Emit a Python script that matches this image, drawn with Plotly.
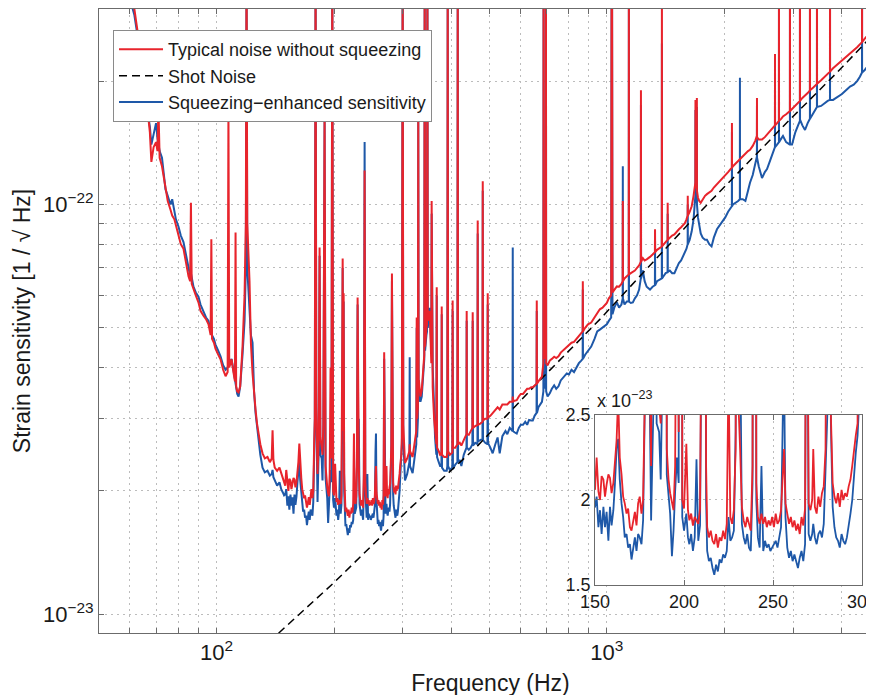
import math
import plotly.graph_objects as go

# Strain sensitivity spectra.
# Values are in units of 1e-23 / sqrt(Hz); 40 marks a line that runs off the top.
SCALE = 1e-23

freq_hz = [
    55, 58, 60, 61.6, 63.5, 64.6, 65.5, 66.5, 67.5, 68.1,
    69.0, 70.0, 70.6, 71.0, 71.5, 72.5, 74.0, 75.0, 76.2, 77.0,
    78.0, 78.7, 79.9, 81.0, 82.3, 83.5, 84.8, 85.6, 86.0, 86.4,
    87.3, 88.5, 89.9, 91.0, 92.6, 94.0, 95.4, 96.6, 97.0, 97.4,
    98.5, 99.4, 101.0, 102.4, 104.0, 105.5, 106.8, 107.3, 107.8, 109.3,
    110.5, 111.5, 111.9, 112.3, 113.0, 113.9, 115.0, 116.6, 118.0, 118.9,
    119.4, 119.9, 121.5, 122.5, 123.7, 124.8, 125.9, 127.0, 128.1, 129.5,
    131.2, 133.0, 135.1, 137.0, 138.5, 139.2, 139.9, 141.0, 143.0, 145.0,
    146.5, 148.0, 149.0,
    150.0, 150.9, 151.9, 152.8, 153.7, 154.7, 155.6, 156.5, 157.5, 158.4,
    159.3, 160.3, 161.2, 162.1, 163.0, 163.9, 164.9, 165.8, 166.7, 167.7,
    168.6, 169.6, 170.5, 171.4, 172.4, 173.3, 174.2, 175.1, 176.1, 177.0,
    177.9, 178.6, 179.4, 180.2, 181.5, 182.7, 183.7, 184.6, 186.0, 186.9,
    187.8, 189.2, 190.3, 191.3, 192.2, 193.2, 194.1, 195.0, 196.0, 197.0,
    198.0, 199.0, 200.0, 201.3, 202.2, 203.0, 204.0, 205.0, 206.0, 207.0,
    208.0, 209.0, 210.0, 210.5, 211.2, 211.7, 212.4, 213.0, 214.0, 215.0,
    216.0, 217.0, 218.0, 219.0, 220.0, 221.0, 222.0, 223.0, 224.0, 225.0,
    226.0, 227.0, 228.0, 229.0, 229.9, 230.8, 231.5, 232.5, 233.5, 234.5,
    235.5, 236.5, 237.5, 238.5, 239.6, 240.6, 241.5, 242.5, 243.5, 244.5,
    245.5, 246.5, 247.5, 248.5, 249.5, 250.5, 251.5, 252.5, 253.5, 254.5,
    255.5, 256.2, 257.0, 258.0, 259.0, 260.0, 261.0, 262.0, 263.0, 264.0,
    265.0, 266.0, 267.0, 268.0, 268.9, 270.0, 271.0, 272.0, 272.6, 273.5,
    274.5, 275.5, 276.5, 277.5, 278.5, 279.5, 280.5, 281.5, 282.5, 283.5,
    284.5, 285.5, 286.5, 287.5, 288.5, 289.5, 290.5, 291.5, 292.5, 293.5,
    294.5, 295.5, 296.5, 297.5, 298.5, 299.9, 301.0,
    304, 308, 312.0, 312.6, 313.2, 318, 322, 325.0, 325.8, 326.6,
    328.1, 328.8, 329.5, 330.0, 333, 335.6, 338, 340.7, 341.5, 342.3,
    345, 346.2, 347.0, 347.8, 351.8, 354, 355.1, 355.8, 356.5, 358.0,
    361, 363, 365.8, 366.6, 367.4, 371, 374, 377.0, 377.6, 378.2,
    383, 388.9, 390.3, 391.2, 392.1, 396, 401.9, 402.7, 403.5, 409,
    414.2, 415.0, 415.8, 420, 424, 430, 434, 437.0, 437.5, 438.0,
    443, 448, 452.5, 453.3, 454.1, 460, 466.2, 466.9, 467.6, 474,
    480.2, 481.0, 481.8, 488, 494.5, 495.3, 496.1, 503, 510, 518,
    525, 531.6, 540, 550, 556, 564, 573.3, 574.1, 574.9, 580,
    587.7, 595, 602, 610, 618, 625, 632, 640, 646.1, 653,
    660.7, 661.5, 662.3, 668, 675, 682, 687.8, 688.6, 689.4, 693.5,
    697.6, 698.4, 699.2, 705, 714.3, 723, 733, 742, 752, 762,
    775, 789.6, 800, 812, 824, 836, 848, 860, 867.2, 868.0,
    868.8, 880, 895, 912, 930, 945, 959.6, 975, 990, 1000,
    1012, 1026, 1028.8, 1031.2, 1034, 1045, 1061, 1075, 1090, 1098.2,
    1099.0, 1099.8, 1110, 1125, 1138.2, 1139.0, 1139.8, 1152, 1166, 1180,
    1195, 1210, 1222, 1223, 1224, 1237, 1250, 1265, 1280, 1290,
    1310, 1328, 1329, 1330, 1345, 1360, 1383, 1384, 1385, 1400,
    1415, 1431, 1432, 1433, 1450, 1470, 1490, 1510, 1530, 1550,
    1566, 1585, 1600, 1611, 1612, 1613, 1630, 1650, 1668, 1680,
    1686, 1687, 1688, 1695, 1700, 1701, 1702, 1712, 1725, 1740,
    1760, 1785, 1805, 1830, 1855, 1880, 1915, 1950, 1980, 2011,
    2045, 2075, 2091, 2092, 2093, 2105, 2140, 2170, 2192, 2193,
    2194, 2230, 2265, 2300, 2327, 2365, 2400, 2424, 2425, 2426,
    2450, 2498, 2540, 2573, 2620, 2660, 2696, 2697, 2698, 2730,
    2760, 2761, 2762, 2800, 2827, 2880, 2945, 2946, 2947, 2982,
    3040, 3090, 3124, 3125, 3126, 3170, 3219, 3270, 3314, 3315,
    3316, 3380, 3454, 3455, 3456, 3540, 3620, 3680, 3730, 3731,
    3732, 3798, 3900, 4003, 4100, 4199, 4290, 4378, 4450, 4506,
    4507, 4508, 4580, 4642, 4740, 4837, 5000,
]

typical_noise = [
    45, 38, 33, 30.0, 24.5, 21.0, 18.5, 17.2, 15.0, 12.7,
    13.8, 14.2, 13.5, 17.3, 13.0, 12.4, 10.9, 10.2, 9.72, 9.4,
    9.2, 8.9, 8.35, 8.0, 7.8, 7.2, 6.67, 6.5, 10.1, 6.4,
    6.2, 6.0, 5.77, 5.5, 5.35, 5.25, 5.1, 4.8, 8.22, 4.7,
    4.6, 4.45, 4.3, 4.19, 3.95, 3.81, 3.9, 17.2, 4.0, 4.19,
    3.9, 3.7, 8.55, 3.6, 3.5, 3.48, 3.6, 4.5, 6.0, 9.0,
    40, 9.0, 6.5, 4.6, 3.87, 3.38, 3.16, 2.92, 2.75, 2.6,
    2.47, 2.40, 2.42, 2.35, 2.40, 2.81, 2.38, 2.28, 2.24, 2.28,
    2.21, 2.15, 2.12,
    2.06, 2.25, 2.05, 2.00, 2.14, 2.12, 2.02, 2.09, 2.15, 2.13,
    2.04, 2.10, 2.22, 2.35, 2.61, 2.25, 2.15, 2.02, 1.98, 1.92,
    1.95, 1.84, 1.82, 1.87, 1.93, 1.85, 1.98, 2.02, 1.92, 2.00,
    2.60, 3.00, 40, 3.20, 2.20, 2.60, 7.85, 2.70, 2.55, 2.45,
    2.90, 16.7, 2.30, 2.12, 2.04, 1.98, 1.94, 2.20, 4.00, 2.40,
    40, 2.00, 1.95, 2.33, 1.94, 1.88, 1.92, 1.85, 1.90, 1.88,
    1.86, 1.95, 3.50, 7.38, 2.80, 6.07, 2.20, 1.84, 1.78, 1.82,
    1.76, 1.74, 1.80, 1.72, 1.78, 1.76, 1.82, 1.77, 1.86, 2.76,
    1.90, 1.86, 1.94, 2.30, 5.93, 2.50, 2.30, 1.96, 1.88, 1.84,
    1.90, 1.86, 1.82, 2.20, 12.1, 2.10, 1.90, 1.86, 1.92, 1.86,
    1.90, 1.84, 1.88, 1.85, 1.90, 1.84, 1.92, 1.86, 1.88, 1.94,
    2.20, 2.30, 1.98, 1.92, 1.86, 1.90, 1.84, 1.88, 1.82, 1.86,
    1.80, 1.90, 1.85, 1.95, 4.36, 1.98, 1.94, 2.00, 2.30, 1.96,
    1.92, 2.02, 1.96, 2.04, 2.08, 2.30, 2.60, 6.79, 2.50, 2.10,
    2.02, 1.98, 2.04, 1.96, 2.06, 2.00, 2.04, 2.02, 2.08, 2.12,
    2.20, 2.30, 2.38, 2.45, 2.70, 40, 2.90,
    2.34, 2.40, 2.50, 2.60, 2.50, 2.42, 2.60, 2.80, 5.30, 3.00,
    3.20, 17.2, 3.50, 3.72, 3.40, 3.52, 3.90, 4.30, 40, 4.50,
    5.00, 5.10, 40, 5.20, 5.50, 4.40, 4.10, 10.2, 3.90, 3.58,
    3.00, 2.75, 2.60, 6.28, 2.55, 2.50, 2.45, 2.46, 5.64, 2.45,
    2.42, 2.42, 2.50, 40, 2.50, 2.45, 2.48, 5.83, 2.55, 2.55,
    2.60, 40, 2.60, 2.62, 2.58, 2.66, 2.72, 2.75, 5.50, 2.76,
    2.74, 2.80, 2.85, 5.46, 2.85, 2.88, 2.90, 9.14, 2.90, 2.92,
    2.95, 11.4, 2.97, 3.00, 3.00, 6.07, 3.02, 3.05, 3.10, 3.16,
    3.20, 3.16, 3.25, 3.25, 3.25, 3.30, 3.30, 3.40, 3.30, 3.32,
    3.33, 3.40, 3.45, 3.45, 3.50, 3.55, 3.55, 3.58, 3.58, 3.62,
    3.65, 5.83, 3.65, 3.70, 3.75, 3.80, 4.10, 40, 4.20, 4.30,
    4.20, 40, 4.10, 4.05, 4.16, 4.20, 4.25, 4.22, 4.26, 4.35,
    4.42, 4.48, 4.55, 4.60, 4.62, 4.70, 4.75, 4.85, 4.90, 6.50,
    4.90, 5.00, 5.10, 5.15, 5.30, 5.45, 5.55, 5.60, 5.70, 5.75,
    5.90, 6.00, 40, 40, 6.10, 6.20, 6.31, 6.30, 6.40, 6.50,
    10.2, 6.50, 6.60, 6.70, 6.75, 40, 6.75, 6.80, 6.85, 6.90,
    7.00, 7.10, 7.25, 19.0, 7.25, 7.40, 7.30, 7.35, 7.40, 7.45,
    7.55, 7.65, 8.70, 7.65, 7.75, 7.80, 7.90, 40, 7.90, 8.00,
    8.10, 8.20, 10.1, 8.20, 8.30, 8.40, 8.45, 8.60, 8.70, 8.80,
    8.90, 9.00, 9.20, 9.40, 10.5, 9.40, 9.60, 9.90, 10.5, 11.0,
    11.3, 18.0, 11.3, 11.0, 11.0, 18.2, 10.8, 10.4, 10.2, 10.1,
    10.3, 10.5, 10.6, 10.7, 10.8, 11.0, 11.2, 11.4, 11.6, 11.8,
    12.0, 12.2, 12.3, 15.8, 12.3, 12.4, 12.6, 12.8, 12.9, 12.9,
    12.9, 13.1, 13.3, 13.5, 13.6, 13.9, 14.3, 14.7, 18.2, 14.6,
    14.4, 14.4, 14.6, 14.8, 15.1, 15.4, 15.6, 23.3, 15.6, 15.8,
    16.0, 40, 16.0, 16.2, 16.4, 16.6, 16.9, 40, 16.9, 17.1,
    17.4, 17.7, 17.9, 40, 17.9, 18.2, 18.4, 18.7, 19.0, 40,
    19.0, 19.3, 19.7, 40, 19.7, 20.1, 20.5, 20.8, 21.1, 40,
    21.1, 21.5, 22.0, 22.5, 23.0, 23.4, 23.8, 24.2, 24.6, 24.9,
    40, 24.9, 25.4, 25.8, 26.3, 26.8, 27.6,
]

squeezed = [
    43, 36, 32, 29.0, 24.0, 20.5, 18.5, 17.0, 15.5, 14.0,
    15.0, 15.8, 14.5, 14.0, 13.5, 13.0, 10.9, 10.5, 10.0, 10.3,
    9.6, 9.2, 8.84, 8.4, 8.1, 7.5, 6.9, 6.7, 6.8, 6.6,
    6.3, 6.1, 5.96, 5.7, 5.5, 5.3, 5.2, 4.9, 5.0, 4.8,
    4.7, 4.55, 4.4, 4.26, 4.05, 3.95, 4.0, 4.1, 4.05, 4.2,
    3.95, 3.75, 3.7, 3.6, 3.45, 3.4, 3.6, 4.3, 5.2, 7.0,
    38, 7.0, 5.6, 4.8, 4.6, 3.5, 3.1, 2.85, 2.65, 2.45,
    2.28, 2.22, 2.24, 2.18, 2.20, 2.25, 2.16, 2.12, 2.06, 2.10,
    2.02, 1.98, 1.95,
    1.96, 2.02, 1.84, 1.94, 1.80, 1.96, 1.84, 1.93, 1.76, 1.96,
    1.85, 1.94, 2.10, 2.30, 2.36, 2.12, 1.98, 1.90, 1.78, 1.80,
    1.72, 1.74, 1.65, 1.72, 1.78, 1.70, 1.80, 1.78, 1.74, 1.88,
    2.60, 3.00, 40, 3.10, 1.88, 2.50, 7.50, 2.45, 2.40, 2.12,
    2.70, 16.0, 2.15, 2.02, 1.92, 1.67, 1.82, 2.05, 2.25, 2.10,
    40, 1.90, 1.82, 1.92, 1.78, 1.74, 1.80, 1.70, 1.78, 2.24,
    1.76, 1.85, 3.30, 7.00, 2.60, 5.80, 2.00, 1.70, 1.64, 1.66,
    1.60, 1.56, 1.62, 1.58, 1.65, 1.63, 1.68, 1.66, 1.70, 1.90,
    1.76, 1.78, 1.82, 2.40, 5.70, 2.60, 3.00, 1.86, 1.78, 1.74,
    1.80, 1.72, 1.70, 2.10, 14.2, 2.00, 1.78, 1.72, 2.20, 1.70,
    1.76, 1.72, 1.74, 1.70, 1.72, 1.74, 1.76, 1.72, 1.78, 1.84,
    2.50, 2.76, 1.90, 1.72, 1.66, 1.70, 1.64, 1.68, 1.64, 1.60,
    1.66, 1.70, 1.64, 1.74, 4.20, 1.80, 1.76, 1.80, 1.86, 1.78,
    1.74, 1.80, 1.82, 1.78, 1.86, 2.20, 2.50, 6.50, 2.45, 1.96,
    1.84, 1.78, 1.76, 1.72, 1.80, 1.76, 1.74, 1.78, 1.84, 1.92,
    2.00, 2.15, 2.28, 2.38, 2.60, 40, 2.70,
    2.12, 2.20, 2.35, 4.24, 2.30, 2.21, 2.40, 2.60, 5.00, 2.70,
    3.00, 16.0, 3.30, 3.50, 3.30, 3.40, 3.80, 4.20, 40, 4.40,
    4.80, 4.90, 40, 5.00, 5.60, 4.60, 4.40, 9.50, 4.20, 4.00,
    3.20, 2.70, 2.45, 6.00, 2.42, 2.35, 2.30, 2.30, 5.40, 2.28,
    2.24, 2.24, 2.30, 40, 2.30, 2.25, 2.28, 5.50, 2.26, 2.32,
    2.35, 40, 2.35, 2.38, 2.30, 2.45, 2.50, 2.55, 5.20, 2.55,
    2.52, 2.55, 2.60, 5.20, 2.58, 2.62, 2.60, 8.50, 2.64, 2.66,
    2.68, 10.8, 2.66, 2.62, 2.60, 5.70, 2.62, 2.55, 2.47, 2.60,
    2.70, 2.47, 2.72, 2.80, 2.75, 2.85, 2.80, 7.85, 2.80, 2.78,
    2.76, 2.85, 2.90, 2.90, 2.95, 2.90, 2.98, 2.97, 2.97, 3.05,
    3.10, 5.50, 3.10, 3.20, 3.25, 3.30, 3.50, 40, 3.60, 3.60,
    3.55, 40, 3.50, 3.40, 3.46, 3.55, 3.62, 3.55, 3.60, 3.72,
    3.80, 3.87, 3.85, 3.95, 3.90, 4.00, 4.10, 4.16, 4.20, 6.20,
    4.20, 4.30, 4.40, 4.50, 4.70, 4.90, 4.95, 5.00, 5.05, 5.10,
    5.20, 5.30, 40, 40, 5.40, 5.60, 5.77, 5.60, 5.70, 5.90,
    12.4, 5.90, 5.70, 5.80, 5.80, 40, 5.80, 5.75, 5.77, 5.90,
    6.00, 6.20, 6.60, 17.5, 6.60, 6.90, 6.50, 6.30, 6.25, 6.20,
    6.30, 6.35, 8.20, 6.35, 6.50, 6.55, 6.60, 24.7, 6.60, 6.70,
    6.80, 6.83, 9.50, 6.85, 6.90, 6.80, 6.80, 7.00, 7.20, 7.30,
    7.47, 7.60, 7.80, 8.00, 10.0, 8.00, 8.20, 8.60, 9.20, 10.0,
    10.5, 17.0, 10.5, 10.2, 10.1, 17.3, 10.0, 9.30, 8.80, 8.50,
    8.30, 8.20, 8.20, 8.00, 7.90, 8.30, 8.70, 8.90, 9.10, 9.30,
    9.60, 9.80, 9.90, 15.0, 9.90, 10.0, 10.1, 10.2, 10.3, 20.4,
    10.3, 10.3, 10.2, 10.8, 11.3, 11.8, 12.5, 13.1, 17.5, 13.0,
    12.4, 11.6, 12.0, 12.2, 12.8, 13.3, 13.8, 22.0, 13.8, 14.0,
    14.2, 40, 14.2, 14.5, 14.7, 14.2, 14.0, 40, 14.0, 14.0,
    15.0, 15.6, 16.0, 40, 16.1, 15.6, 15.2, 15.8, 16.2, 40,
    16.2, 16.7, 17.3, 40, 17.3, 17.4, 17.7, 17.9, 18.0, 40,
    18.0, 18.0, 18.3, 18.6, 19.0, 19.4, 19.6, 20.0, 20.5, 21.0,
    40, 21.0, 21.3, 21.7, 22.2, 22.6, 23.5,
]

shot_freq_hz = [144.2, 198.4, 312.6, 463.4, 686.6, 959.6, 1632, 2894, 3888, 4837]
shot_noise = [0.899, 1.186, 1.811, 2.559, 3.792, 5.243, 9.04, 15.85, 20.99, 26.1]

x_ticks = [50, 60, 70, 80, 90, 100, 200, 300, 400, 500, 600, 700, 800, 900,
           1000, 2000, 3000, 4000, 5000]
x_labels = {100: "10<sup>2</sup>", 1000: "10<sup>3</sup>"}
y_ticks = [1, 2, 3, 4, 5, 6, 7, 8, 9, 10, 20, 30]
y_labels = {1: "10<sup>\u221223</sup>", 10: "10<sup>\u221222</sup>"}

inset_x_ticks = [150, 200, 250, 300]
inset_y_ticks = [1.5, 2, 2.5]

assert len(freq_hz) == len(typical_noise) == len(squeezed)

RED = "#e8242c"
BLUE = "#1e58a8"
AXIS = "#6b6b6b"
GRID = "#bcbcbc"

fig = go.Figure()

# main panel: blue under, dashed shot noise, red on top
fig.add_trace(go.Scatter(x=freq_hz, y=[v * SCALE for v in squeezed], mode="lines",
                         line=dict(color=BLUE, width=2),
                         name="Squeezing\u2212enhanced sensitivity", legendrank=3))
fig.add_trace(go.Scatter(x=shot_freq_hz, y=[v * SCALE for v in shot_noise], mode="lines",
                         line=dict(color="black", width=1.5, dash="8px,5px"),
                         name="Shot Noise", legendrank=2))
fig.add_trace(go.Scatter(x=freq_hz, y=[v * SCALE for v in typical_noise], mode="lines",
                         line=dict(color=RED, width=2),
                         name="Typical noise without squeezing", legendrank=1))

# inset: 150-300 Hz on linear axes
idx = [i for i, f in enumerate(freq_hz) if 145 <= f <= 305]
fig.add_trace(go.Scatter(x=[freq_hz[i] for i in idx], y=[squeezed[i] for i in idx],
                         mode="lines", line=dict(color=BLUE, width=1.8),
                         xaxis="x2", yaxis="y2", showlegend=False))
fig.add_trace(go.Scatter(x=[freq_hz[i] for i in idx], y=[typical_noise[i] for i in idx],
                         mode="lines", line=dict(color=RED, width=1.8),
                         xaxis="x2", yaxis="y2", showlegend=False))

axis_style = dict(ticks="inside", ticklen=5, tickcolor=AXIS, showline=True,
                  linecolor=AXIS, linewidth=1, showgrid=True, gridcolor=GRID,
                  griddash="2px,4px", gridwidth=1, zeroline=False, automargin=False)

# the page puts the figure 8 px in from the top-left corner, so the margins
# are set 8 px smaller and the plot runs past the right edge of the window
fig.update_layout(
    width=874, height=695,
    margin=dict(l=91, r=0, t=1, b=70),
    paper_bgcolor="white", plot_bgcolor="white",
    font=dict(family="Liberation Sans, Arial, sans-serif", size=22, color="#1a1a1a"),
    showlegend=True,
    legend=dict(x=0.0179, y=0.9663, xanchor="left", yanchor="top", bgcolor="white",
                bordercolor="#8a8a8a", borderwidth=1, font=dict(size=18),
                itemwidth=44, tracegroupgap=0),
    xaxis=dict(type="log", range=[math.log10(50), math.log10(5070)],
               tickvals=x_ticks, ticktext=[x_labels.get(t, "") for t in x_ticks],
               mirror="ticks",
               title=dict(text="Frequency (Hz)", font=dict(size=23), standoff=10),
               **axis_style),
    yaxis=dict(type="log", range=[math.log10(9e-24), math.log10(3e-22)],
               tickvals=[t * SCALE for t in y_ticks],
               ticktext=[y_labels.get(t, "") for t in y_ticks],
               title=dict(text="Strain sensitivity [1 / \u221a Hz]", font=dict(size=23),
                          standoff=5),
               **axis_style),
    xaxis2=dict(domain=[0.6335, 0.9745], anchor="y2", range=[150, 300],
                tickvals=inset_x_ticks, ticktext=[str(t) for t in inset_x_ticks],
                mirror="ticks", tickfont=dict(size=18), **axis_style),
    yaxis2=dict(domain=[0.0769, 0.3494], anchor="x2", range=[1.5, 2.5],
                tickvals=inset_y_ticks, ticktext=["1.5", "2", "2.5"],
                mirror="ticks", tickfont=dict(size=18), **axis_style),
    annotations=[dict(text="x 10<sup>\u221223</sup>", xref="paper", yref="paper",
                      x=0.6335, y=0.352, xanchor="left", yanchor="bottom",
                      showarrow=False, font=dict(size=18))],
)

fig.write_html("out.html")
